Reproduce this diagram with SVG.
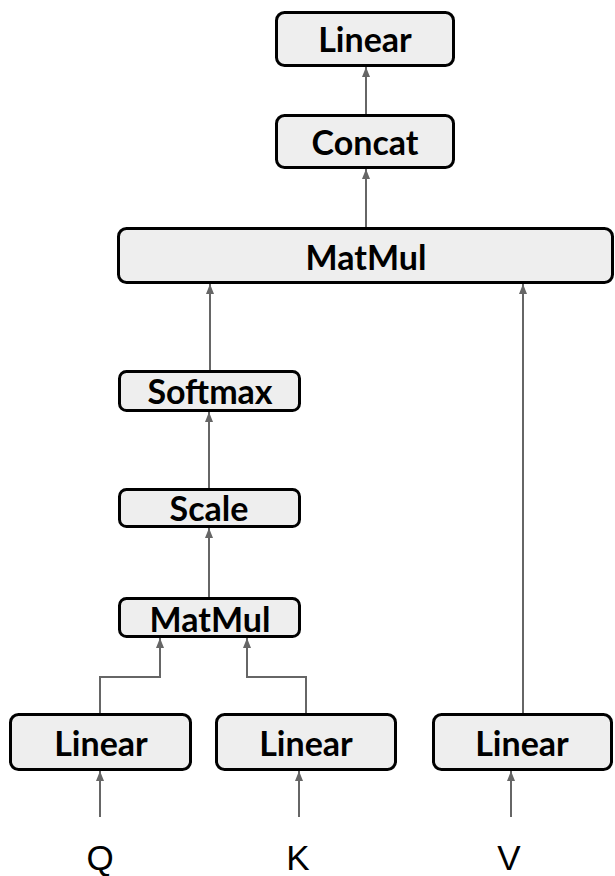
<svg xmlns="http://www.w3.org/2000/svg" width="615" height="876" viewBox="0 0 615 876">
  <style>
    .box { fill: #eeeeee; stroke: #000000; stroke-width: 3; }
    .lbl { font-family: Lato, "Open Sans", sans-serif; font-weight: bold; font-size: 34px; fill: #000000; text-anchor: middle; }
    .inp { font-family: "Liberation Sans", Arial, sans-serif; font-size: 35px; fill: #000000; text-anchor: middle; }
    .wire { fill: none; stroke: #666666; stroke-width: 2; }
  </style>
  <defs>
    <marker id="arrow" markerUnits="userSpaceOnUse" markerWidth="10" markerHeight="8" refX="10" refY="4" orient="auto">
      <path d="M0,0 L10,4 L0,8 Z" fill="#666666"/>
    </marker>
  </defs>
  <rect width="615" height="876" fill="#ffffff"/>

  <!-- connectors -->
  <g id="connectors">
    <line class="wire" x1="366" y1="114" x2="366" y2="67" marker-end="url(#arrow)"/>
    <line class="wire" x1="366" y1="227" x2="366" y2="169" marker-end="url(#arrow)"/>
    <line class="wire" x1="210" y1="370" x2="210" y2="284" marker-end="url(#arrow)"/>
    <line class="wire" x1="523" y1="713" x2="523" y2="284" marker-end="url(#arrow)"/>
    <line class="wire" x1="209" y1="488" x2="209" y2="412" marker-end="url(#arrow)"/>
    <line class="wire" x1="209" y1="597" x2="209" y2="528" marker-end="url(#arrow)"/>
    <polyline class="wire" points="100,713 100,677 160,677 160,638" marker-end="url(#arrow)"/>
    <polyline class="wire" points="306,713 306,677 247,677 247,638" marker-end="url(#arrow)"/>
    <line class="wire" x1="100" y1="817" x2="100" y2="771" marker-end="url(#arrow)"/>
    <line class="wire" x1="299" y1="817" x2="299" y2="771" marker-end="url(#arrow)"/>
    <line class="wire" x1="511" y1="817" x2="511" y2="771" marker-end="url(#arrow)"/>
  </g>

  <!-- nodes -->
  <g id="linear-out">
    <rect class="box" x="276.5" y="12.5" width="177" height="53" rx="8"/>
    <text class="lbl" x="365" y="52">Linear</text>
  </g>
  <g id="concat">
    <rect class="box" x="276.5" y="115.5" width="177" height="52" rx="8"/>
    <text class="lbl" x="365" y="155">Concat</text>
  </g>
  <g id="matmul-out">
    <rect class="box" x="118.5" y="228.5" width="494" height="54" rx="8"/>
    <text class="lbl" x="366" y="270">MatMul</text>
  </g>
  <g id="softmax">
    <rect class="box" x="119.5" y="371.5" width="180" height="39" rx="7"/>
    <text class="lbl" x="210" y="404">Softmax</text>
  </g>
  <g id="scale">
    <rect class="box" x="119.5" y="489.5" width="180" height="37" rx="7"/>
    <text class="lbl" x="209" y="521">Scale</text>
  </g>
  <g id="matmul-qk">
    <rect class="box" x="119.5" y="598.5" width="180" height="38" rx="7"/>
    <text class="lbl" x="210" y="632">MatMul</text>
  </g>
  <g id="linear-q">
    <rect class="box" x="10.5" y="714.5" width="180" height="55" rx="8"/>
    <text class="lbl" x="101" y="756">Linear</text>
  </g>
  <g id="linear-k">
    <rect class="box" x="216.5" y="714.5" width="179" height="55" rx="8"/>
    <text class="lbl" x="306" y="756">Linear</text>
  </g>
  <g id="linear-v">
    <rect class="box" x="433.5" y="714.5" width="178" height="55" rx="8"/>
    <text class="lbl" x="522" y="756">Linear</text>
  </g>

  <!-- inputs -->
  <g id="input-q"><text class="inp" x="100" y="870">Q</text></g>
  <g id="input-k"><text class="inp" x="298" y="870">K</text></g>
  <g id="input-v"><text class="inp" x="509" y="870">V</text></g>
</svg>
